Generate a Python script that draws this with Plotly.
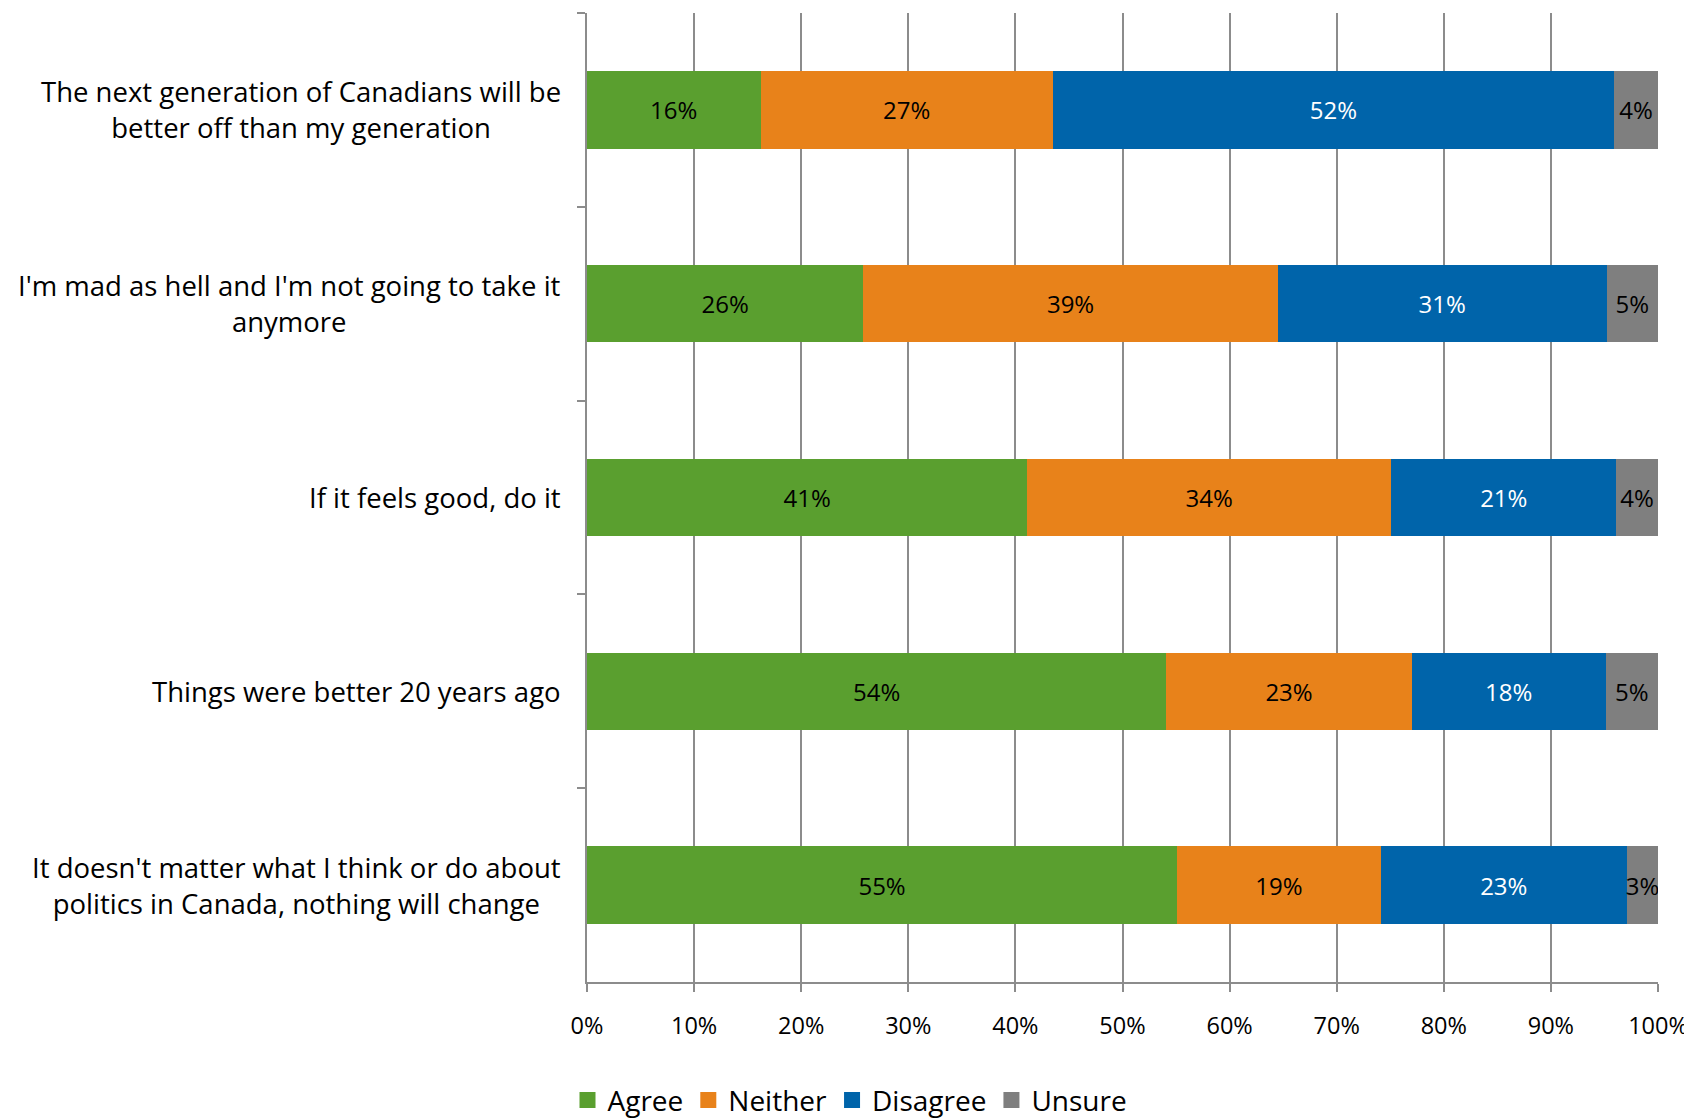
import plotly.graph_objects as go

categories = [
    "The next generation of Canadians will be<br>better off than my generation",
    "I'm mad as hell and I'm not going to take it<br>anymore",
    "If it feels good, do it",
    "Things were better 20 years ago",
    "It doesn't matter what I think or do about<br>politics in Canada, nothing will change",
]
agree = [16.2, 25.8, 41.1, 54.1, 55.1]
neither = [27.3, 38.7, 34.0, 22.9, 19.0]
disagree = [52.4, 30.7, 21.0, 18.1, 23.0]
unsure = [4.1, 4.8, 3.9, 4.9, 2.9]

series = [
    ("Agree", agree, "#5A9F2F", "black"),
    ("Neither", neither, "#E8821A", "black"),
    ("Disagree", disagree, "#0064AA", "white"),
    ("Unsure", unsure, "#7F7F7F", "black"),
]

FONT = "Open Sans"
FS = 24

fig = go.Figure()
for name, vals, color, tcolor in series:
    fig.add_trace(go.Bar(
        y=categories, x=vals, name=name, orientation="h",
        marker=dict(color=color, line=dict(width=0)),
        texttemplate="%{x:.0f}%", textposition="inside",
        insidetextanchor="middle", textangle=0,
        textfont=dict(color=tcolor, size=FS, family=FONT),
        constraintext="none", showlegend=False,
    ))
    # legend entry with a larger square swatch
    fig.add_trace(go.Scatter(
        x=[None], y=[None], mode="markers", name=name,
        marker=dict(symbol="square", size=19, color=color),
        showlegend=True, hoverinfo="skip",
    ))

for c in categories:
    fig.add_annotation(
        x=0, xref="paper", y=c, yref="y", text=c, showarrow=False,
        xanchor="right", yanchor="middle", xshift=-24, align="center",
        font=dict(size=27.5, family=FONT, color="black"),
    )

fig.update_layout(
    barmode="stack", bargap=0.6,
    width=1684, height=1110,
    margin=dict(l=579, r=34, t=5, b=136, autoexpand=False),
    paper_bgcolor="white", plot_bgcolor="white",
    font=dict(family=FONT, size=FS, color="black"),
    uniformtext=dict(minsize=FS, mode="show"),
    showlegend=True,
    legend=dict(
        orientation="h", traceorder="normal",
        xref="container", yref="container",
        x=0.5, xanchor="center", y=0.016, yanchor="middle",
        font=dict(size=28, family=FONT),
        itemwidth=30, itemsizing="trace",
    ),
    xaxis=dict(
        range=[0, 100], dtick=10, ticksuffix="%",
        showgrid=True, gridcolor="#8C8C8C", gridwidth=2,
        showline=True, linecolor="#8C8C8C", linewidth=2,
        ticks="outside", ticklen=8, tickcolor="#8C8C8C", tickwidth=2,
        zeroline=False, automargin=False,
        tickfont=dict(size=23.5, family=FONT),
        ticklabelstandoff=14,
    ),
    yaxis=dict(
        range=[4.5, -0.5], type="category",
        showticklabels=False, tickson="boundaries",
        ticks="outside", ticklen=8, tickcolor="#8C8C8C", tickwidth=2,
        showline=True, linecolor="#8C8C8C", linewidth=2,
        showgrid=False, zeroline=False, automargin=False,
    ),
)

fig.write_html("out.html")
